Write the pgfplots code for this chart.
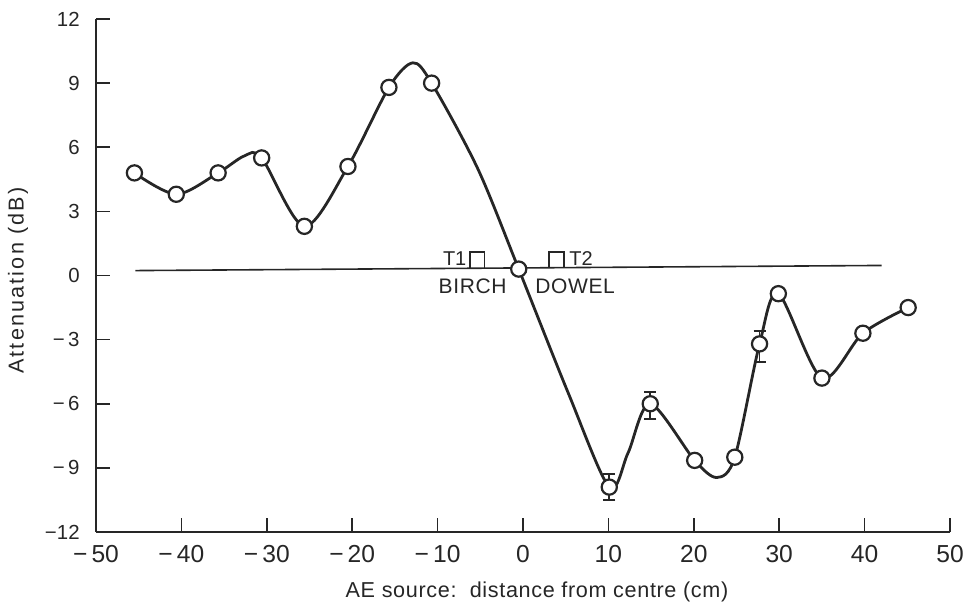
\documentclass[border=0pt]{standalone}
\usepackage{fontspec}
\setmainfont{Liberation Sans}
\newfontfamily\xlfont[LetterSpace=3]{Liberation Sans}
\newfontfamily\ylfont[LetterSpace=10]{Liberation Sans}
\usepackage{pgfplots}
\usepackage{pgfplotstable}
\pgfplotsset{compat=1.18}

\definecolor{ink}{gray}{0.15}

\pgfplotstableread{
x y
-45.5 4.8
-40.6 3.8
-35.7 4.8
-30.6 5.5
-25.6 2.3
-20.5 5.1
-15.7 8.8
-10.7 9.0
-0.5 0.3
10.1 -9.9
14.9 -6.0
20.1 -8.65
24.8 -8.5
27.7 -3.2
29.9 -0.85
35.0 -4.8
39.8 -2.7
45.1 -1.5
}\points

\pgfplotstableread{
x y ep em
10.1 -9.9 0.6 0.6
14.9 -6.0 0.55 0.7
27.7 -3.2 0.6 0.85
}\errs

\pgfplotstableread{
x y
-45.5 4.8
-40.6 3.8
-35.7 4.8
-32.6 5.6
-30.6 5.5
-25.6 2.3
-20.5 5.1
-15.7 8.8
-12.9 9.95
-10.7 9.0
-5.3 5.0
-0.5 0.3
5.3 -5.5
10.1 -9.9
12.3 -8.3
14.9 -6.0
20.1 -8.65
22.7 -9.45
24.8 -8.5
27.7 -3.2
29.9 -0.85
35.0 -4.8
39.8 -2.7
45.1 -1.5
}\curve

\pgfplotstableread{
x y
-45.4 0.23
42.0 0.47
}\baseline

\begin{document}
\begin{tikzpicture}
\useasboundingbox (-48pt,-38.5pt) rectangle (436.5pt,266pt);
\begin{axis}[
  at={(0,0)}, anchor=south west,
  scale only axis, width=427pt, height=256.5pt,
  xmin=-50, xmax=50, ymin=-12, ymax=12,
  clip=false,
  axis lines=left,
  axis line style={-, line width=0.85pt, ink},
  tick align=inside,
  major tick length=7pt,
  tick style={line width=0.85pt, ink},
  xtick={-50,-40,-30,-20,-10,0,10,20,30,40,50},
  xticklabels={−\,50,−\,40,−\,30,−\,20,−\,10,0,10,20,30,40,50},
  ytick={-12,-9,-6,-3,0,3,6,9,12},
  yticklabels={−12,−\,9,−\,6,−\,3,0,3,6,9,12},
  xticklabel style={font=\fontsize{12.3}{14}\selectfont, text=ink, anchor=north, inner sep=0pt, yshift=-6.5pt},
  yticklabel style={font=\fontsize{10.2}{12}\selectfont, text=ink, anchor=east, inner sep=0pt, xshift=-8pt},
  xlabel={AE source:\ \ distance from centre (cm)},
  ylabel={Attenuation (dB)},
  xlabel style={font=\xlfont\fontsize{10.8}{12}\selectfont, text=ink, at={(axis description cs:0.5,0)}, anchor=center, yshift=-30pt, xshift=7pt},
  ylabel style={font=\ylfont\fontsize{10.8}{12}\selectfont, text=ink, at={(axis description cs:0,0.49)}, anchor=center, yshift=39pt},
]
% baseline
\addplot[ink, line width=0.8pt] table[x=x,y=y] {\baseline};
% error bars
\addplot[draw=none, mark=none,
  error bars/.cd, y dir=both, y explicit,
  error bar style={line width=0.9pt, ink},
  error mark options={rotate=90, mark size=3pt, line width=0.9pt, ink}]
  table[x=x, y=y, y error plus=ep, y error minus=em] {\errs};
% curve
\addplot[ink, line width=1.4pt, smooth, tension=0.5, mark=none] table[x=x,y=y] {\curve};
% markers
\addplot[only marks, mark=*, mark size=3.8pt,
  mark options={fill=white, draw=ink, line width=1.1pt}] table[x=x,y=y] {\points};
% transducer symbols and labels
\draw[ink, line width=0.8pt] (axis cs:-6.2,0.34) |- (axis cs:-4.5,1.1) -- (axis cs:-4.5,0.35);
\draw[ink, line width=0.8pt] (axis cs:3.05,0.37) |- (axis cs:4.8,1.1) -- (axis cs:4.8,0.38);
\node[text=ink, font=\fontsize{10}{11}\selectfont, inner sep=0pt] at (axis cs:-8.0,0.8) {T1};
\node[text=ink, font=\fontsize{10}{11}\selectfont, inner sep=0pt] at (axis cs:6.8,0.8) {T2};
\node[text=ink, font=\xlfont\fontsize{10.5}{12}\selectfont, inner sep=0pt] at (axis cs:-5.9,-0.49) {BIRCH};
\node[text=ink, font=\xlfont\fontsize{10.5}{12}\selectfont, inner sep=0pt] at (axis cs:6.1,-0.49) {DOWEL};
\end{axis}
\end{tikzpicture}
\end{document}
